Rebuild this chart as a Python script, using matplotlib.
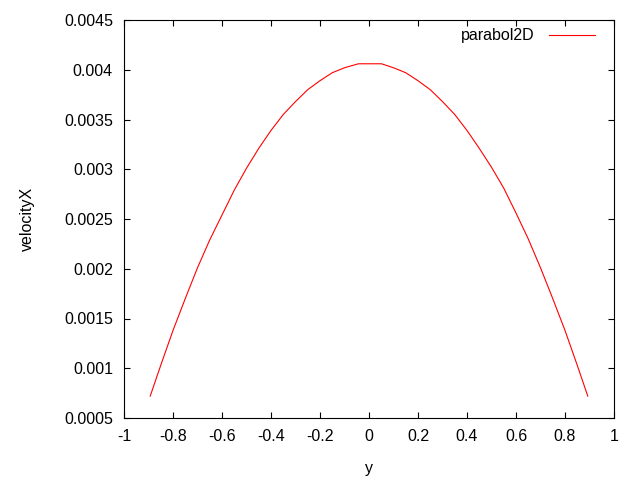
import matplotlib
matplotlib.use("Agg")
import matplotlib.pyplot as plt
from matplotlib.ticker import FuncFormatter

# values
y_pos = [-0.893, -0.85, -0.8, -0.75, -0.7, -0.65, -0.6, -0.55, -0.5, -0.45,
         -0.4, -0.35, -0.3, -0.25, -0.2, -0.15, -0.1, -0.043,
         0.051, 0.1, 0.15, 0.2, 0.25, 0.3, 0.35, 0.4, 0.45, 0.5, 0.55, 0.6,
         0.65, 0.7, 0.75, 0.8, 0.85, 0.893]
velocity_x = [0.00072, 0.00103, 0.00138, 0.00170, 0.00201, 0.00229, 0.00254,
              0.00279, 0.00301, 0.00321, 0.00339, 0.00355, 0.00368, 0.00380,
              0.00389, 0.00397, 0.00402, 0.00406,
              0.00406, 0.00402, 0.00397, 0.00389, 0.00380, 0.00368, 0.00355,
              0.00339, 0.00321, 0.00302, 0.00281, 0.00256, 0.00230, 0.00201,
              0.00170, 0.00138, 0.00103, 0.00072]

x_ticks = [-1, -0.8, -0.6, -0.4, -0.2, 0, 0.2, 0.4, 0.6, 0.8, 1]
y_ticks = [0.0005, 0.001, 0.0015, 0.002, 0.0025, 0.003, 0.0035, 0.004, 0.0045]

plt.rcParams["font.family"] = ["Liberation Sans", "DejaVu Sans"]
plt.rcParams["font.size"] = 11.5

fig = plt.figure(figsize=(6.4, 4.8), dpi=100)
ax = fig.add_axes([124 / 640, 62 / 480, 490 / 640, 398 / 480])

ax.plot(y_pos, velocity_x, color="#ff0000", linewidth=0.8, label="parabol2D")

ax.set_xlim(-1, 1)
ax.set_ylim(0.0005, 0.0045)
ax.set_xticks(x_ticks)
ax.set_yticks(y_ticks)
ax.xaxis.set_major_formatter(FuncFormatter(lambda v, p: "%g" % round(v, 4)))
ax.yaxis.set_major_formatter(FuncFormatter(lambda v, p: "%g" % round(v, 6)))
ax.tick_params(direction="in", length=4, width=0.8, top=True, right=True,
               pad=8, colors="black")
for s in ax.spines.values():
    s.set_linewidth(0.8)

ax.set_xlabel("y", labelpad=12)
ax.set_ylabel("velocityX", labelpad=21)

ax.legend(loc="upper right", frameon=False, markerfirst=False,
          handlelength=2.9, handletextpad=0.9, borderaxespad=0.0,
          bbox_to_anchor=(0.975, 0.995))

fig.savefig("out.png", dpi=100)
